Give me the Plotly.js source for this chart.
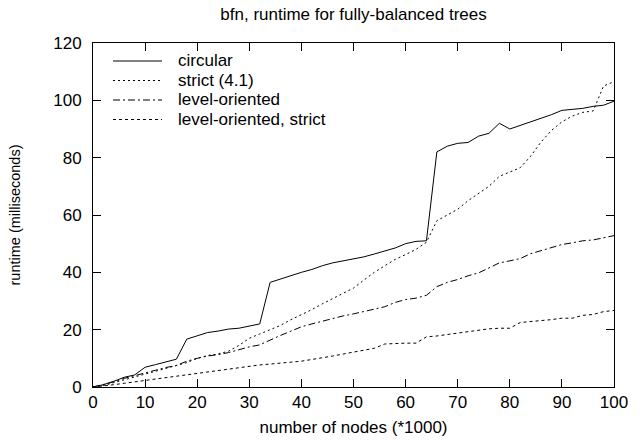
<!DOCTYPE html>
<html>
<head>
<meta charset="utf-8">
<script src="https://cdn.plot.ly/plotly-3.0.1.min.js"></script>
<style>html,body{margin:0;padding:0;background:#fff;}#chart{width:644px;height:441px;}</style>
</head>
<body>
<div id="chart"></div>
<script>
var nodes = [0,2,4,6,8,10,12,14,16,18,20,22,24,26,28,30,32,34,36,38,40,42,44,46,48,50,52,54,56,58,60,62,64,66,68,70,72,74,76,78,80,82,84,86,88,90,92,94,96,98,100];

var circular = [0,0.8,2,3.4,4.2,6.9,7.8,8.8,9.7,16.7,17.8,19,19.5,20.2,20.5,21.3,22,36.5,37.7,38.8,40,41,42.3,43.3,44,44.6,45.4,46.4,47.5,48.5,50,50.8,51,82,84,85,85.3,87.5,88.5,92,90,91.2,92.5,93.8,95,96.5,96.8,97.2,97.9,98.3,99.7];

var strict41 = [0,0.5,1.5,2.5,3.5,4.5,5.5,6.5,7.5,8.5,10,11,11.5,12.5,14.5,17,18.5,20,21.5,23.5,25.2,27,29,30.8,32.5,34.5,37.3,40,42.3,44.5,46.2,48,50.5,58,60,62,65,67.5,70,73.5,75,76.5,80.5,85.5,89.5,92.5,94.5,95.8,96.3,105,106.5];

var levelOriented = [0,0.8,1.8,3,4,5,6,6.8,7.5,9,10,10.8,11.3,12,13,14,14.7,16.4,18,19.5,21,22,23,24,24.8,25.5,26.3,27.2,28,29.5,30.5,31,32,35,36.5,37.5,38.8,39.8,41.5,43.3,44,44.8,46.5,47.5,48.5,49.7,50.3,51,51.3,52,52.8];

var levelStrict = [0,0.3,0.8,1.3,1.8,2.3,2.8,3.3,3.8,4.3,4.8,5.4,5.9,6.3,6.8,7.3,7.7,8,8.3,8.6,9,9.6,10.1,10.8,11.5,12.2,12.8,13.5,15,15.2,15.3,15.3,17.5,17.8,18.3,19,19.4,20,20.3,20.5,20.5,22.5,22.8,23.3,23.5,24,24,25,25.3,26.3,26.7];

var names = ["circular", "strict (4.1)", "level-oriented", "level-oriented, strict"];
var xTicks = [0,10,20,30,40,50,60,70,80,90,100];
var yTicks = [0,20,40,60,80,100,120];

var series = [circular, strict41, levelOriented, levelStrict];
var dashes = ["solid", "2px,3px", "7px,3px,2px,3px", "3px,3px"];

var traces = series.map(function(s, i){
  return {x: nodes, y: s, name: names[i], type: "scatter", mode: "lines",
          line: {color: "#000", width: 1, dash: dashes[i]}, showlegend: false};
});

var FAM = "Liberation Sans, Arial, sans-serif";
var FS = 17;

// Hand-built legend (tighter row spacing than Plotly's legend allows)
var plotL = 93, plotW = 521, plotB = 387, plotH = 344;
function px2x(p){ return (p - plotL) / plotW; }
function py2y(p){ return (plotB - p) / plotH; }
var rowY = [61, 80.5, 100, 119.5];
var shapes = [], annotations = [];
names.forEach(function(n, i){
  shapes.push({type: "line", xref: "paper", yref: "paper",
               x0: px2x(113), x1: px2x(162), y0: py2y(rowY[i]), y1: py2y(rowY[i]),
               line: {color: "#000", width: 1, dash: dashes[i]}});
  annotations.push({xref: "paper", yref: "paper", x: px2x(176), y: py2y(rowY[i]),
                    xanchor: "left", yanchor: "middle", showarrow: false, text: n,
                    font: {family: FAM, size: FS, color: "#000"}});
});

var layout = {
  width: 644, height: 441,
  margin: {l: 93, r: 30, t: 43, b: 54},
  paper_bgcolor: "#fff", plot_bgcolor: "#fff",
  font: {family: FAM, size: FS, color: "#000"},
  showlegend: false,
  shapes: shapes,
  annotations: annotations,
  title: {text: "bfn, runtime for fully-balanced trees", font: {family: FAM, size: FS, color: "#000"},
          x: 0.549, xanchor: "center", y: 0.968, yanchor: "middle"},
  xaxis: {range: [0, 100], tickvals: xTicks, ticktext: xTicks.map(String), ticks: "inside", ticklen: 8, tickwidth: 1, tickcolor: "#000",
          showline: true, linecolor: "#000", linewidth: 1, mirror: "ticks", showgrid: false, zeroline: false,
          tickfont: {family: FAM, size: FS, color: "#000"},
          title: {text: "number of nodes (*1000)", font: {family: FAM, size: FS, color: "#000"}, standoff: 9}},
  yaxis: {range: [0, 120], tickvals: yTicks, ticktext: yTicks.map(String), ticks: "inside", ticklen: 8, tickwidth: 1, tickcolor: "#000",
          showline: true, linecolor: "#000", linewidth: 1, mirror: "ticks", showgrid: false, zeroline: false,
          ticklabelstandoff: 7,
          tickfont: {family: FAM, size: FS, color: "#000"},
          title: {text: "runtime (milliseconds)", font: {family: FAM, size: 14.5, color: "#000"}, standoff: 29}}
};

Plotly.newPlot("chart", traces, layout, {displayModeBar: false, staticPlot: true});
</script>
</body>
</html>
